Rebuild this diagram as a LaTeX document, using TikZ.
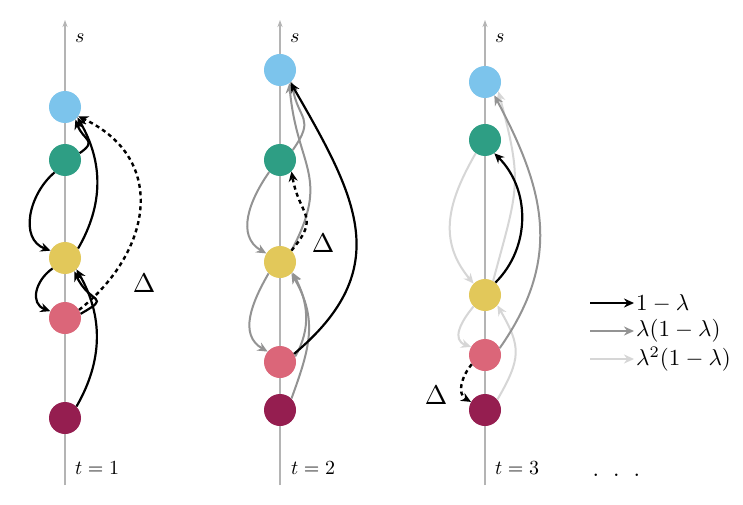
\documentclass[tikz,border=0pt]{standalone}
\usetikzlibrary{arrows.meta}
\definecolor{cblue}{HTML}{7CC4EC}
\definecolor{cteal}{HTML}{2E9E84}
\definecolor{cyel}{HTML}{E2C85A}
\definecolor{cpink}{HTML}{DB6679}
\definecolor{cdark}{HTML}{951E50}
\definecolor{cgray}{HTML}{939393}
\definecolor{clight}{HTML}{D6D6D6}
\definecolor{caxis}{HTML}{B4B4B4}
\tikzset{
  dot/.style={circle,minimum size=32pt,inner sep=0pt},
  axisline/.style={draw=caxis,line width=1.2pt,-{Stealth[length=7pt,width=5pt]}},
  wblack/.style={draw=black,line width=2.2pt,-{Stealth[length=10pt,width=9pt]}},
  wgray/.style={draw=cgray,line width=2pt,-{Stealth[length=10pt,width=9pt]}},
  wlight/.style={draw=clight,line width=2pt,-{Stealth[length=10pt,width=9pt]}},
  wdash/.style={draw=black,line width=2.4pt,dash pattern=on 4pt off 3.5pt,-{Stealth[length=10pt,width=9pt]}},
  lab/.style={inner sep=0pt},
}
\begin{document}
\begin{tikzpicture}[x=1pt,y=1pt]
\useasboundingbox (0,0) rectangle (743,504);
\fill[white] (0,0) rectangle (743,504);
% ---------- panel 1 ----------
\coordinate (a1b) at (65,19); \coordinate (a1t) at (65,484);
\draw[axisline] (a1b) -- (a1t);
\node[lab,anchor=west] (s1) at (75,466) {\scalebox{2}{$s$}};
\node[lab,anchor=west] (t1) at (75,36) {\scalebox{2}{$t=1$}};
\node[dot,fill=cblue] (B1) at (65,397) {};
\node[dot,fill=cteal] (T1) at (65,344) {};
\node[dot,fill=cyel]  (Y1) at (65,246) {};
\node[dot,fill=cpink] (P1) at (65,186) {};
\node[dot,fill=cdark] (D1) at (65,86) {};
\draw[wblack] (T1.230) to[out=220,in=160,looseness=1.1] (Y1.153);
\draw[wblack] (Y1.220) to[out=215,in=160,looseness=1.3] (P1.155);
\draw[wblack] (Y1.36) to[out=60,in=-60] (B1.-40);
\draw[wblack] (T1.25) to[out=35,in=-70,looseness=1.7] (B1.-50);
\draw[wblack] (D1.45) to[out=60,in=-60] (Y1.-45);
\draw[wblack] (P1.15) to[out=30,in=-65,looseness=2.2] (Y1.-55);
\draw[wdash] (P1.30) .. controls (150,250) and (170,344) .. (B1.-35);
\node[lab] (d1) at (144,221) {\scalebox{2.7}{$\Delta$}};
% ---------- panel 2 ----------
\coordinate (a2b) at (280,19); \coordinate (a2t) at (280,484);
\draw[axisline] (a2b) -- (a2t);
\node[lab,anchor=west] (s2) at (290,466) {\scalebox{2}{$s$}};
\node[lab,anchor=west] (t2) at (291,36) {\scalebox{2}{$t=2$}};
\node[dot,fill=cblue] (B2) at (280,434) {};
\node[dot,fill=cteal] (T2) at (280,344) {};
\node[dot,fill=cyel]  (Y2) at (280,242) {};
\node[dot,fill=cpink] (P2) at (280,142) {};
\node[dot,fill=cdark] (D2) at (280,94) {};
\draw[wgray] (T2.228) to[out=235,in=150,looseness=1.1] (Y2.148);
\draw[wgray] (Y2.225) to[out=240,in=150,looseness=1.1] (P2.140);
\draw[wgray] (Y2.45) to[out=62,in=-85,looseness=1.3] (B2.-55);
\draw[wgray] (T2.38) to[out=55,in=-80,looseness=1.5] (B2.-45);
\draw[wgray] (D2.45) to[out=70,in=-60,looseness=1.1] (Y2.-45);
\draw[wgray] (P2.20) to[out=60,in=-62,looseness=1] (Y2.-40);
\draw[wblack] (P2.30) to[out=40,in=-60,looseness=1.25] (B2.-50);
\draw[wdash] (Y2.45) to[out=50,in=-80,looseness=1.5] (T2.-45);
\node[lab] (d2) at (323,261) {\scalebox{2.7}{$\Delta$}};
% ---------- panel 3 ----------
\coordinate (a3b) at (485,19); \coordinate (a3t) at (485,484);
\draw[axisline] (a3b) -- (a3t);
\node[lab,anchor=west] (s3) at (495,466) {\scalebox{2}{$s$}};
\node[lab,anchor=west] (t3) at (495,36) {\scalebox{2}{$t=3$}};
\node[dot,fill=cblue] (B3) at (485,422) {};
\node[dot,fill=cteal] (T3) at (485,364) {};
\node[dot,fill=cyel]  (Y3) at (485,209) {};
\node[dot,fill=cpink] (P3) at (485,149) {};
\node[dot,fill=cdark] (D3) at (485,94) {};
\draw[wlight] (T3.235) to[out=240,in=130,looseness=1.1] (Y3.135);
\draw[wlight] (Y3.225) to[out=230,in=160,looseness=1.3] (P3.150);
\draw[wlight] (Y3.60) to[out=75,in=-75,looseness=1.3] (B3.-35);
\draw[wlight] (D3.40) to[out=60,in=-60,looseness=1.3] (Y3.-40);
\draw[wgray] (P3.25) to[out=55,in=-62,looseness=1.1] (B3.-55);
\draw[wblack] (Y3.50) to[out=45,in=-45] (T3.-55);
\draw[wdash] (P3.215) to[out=230,in=150,looseness=1.1] (D3.150);
\node[lab] (d3) at (436,109) {\scalebox{2.7}{$\Delta$}};
% ---------- legend ----------
\coordinate (l1a) at (590,201); \coordinate (l1b) at (634,201);
\coordinate (l2a) at (590,173); \coordinate (l2b) at (634,173);
\coordinate (l3a) at (590,145); \coordinate (l3b) at (634,145);
\draw[wblack] (l1a) -- (l1b);
\draw[wgray] (l2a) -- (l2b);
\draw[wlight] (l3a) -- (l3b);
\node[lab,anchor=west] (g1) at (636,201) {\scalebox{2.3}{$1-\lambda$}};
\node[lab,anchor=west] (g2) at (636,173) {\scalebox{2.3}{$\lambda(1-\lambda)$}};
\node[lab,anchor=west] (g3) at (636,145) {\scalebox{2.3}{$\lambda^2(1-\lambda)$}};
\node[anchor=base west,inner sep=0pt,font=\fontsize{30}{32}\selectfont] (dots) at (592,28) {.\hspace{13pt}.\hspace{13pt}.};
\end{tikzpicture}
\end{document}
